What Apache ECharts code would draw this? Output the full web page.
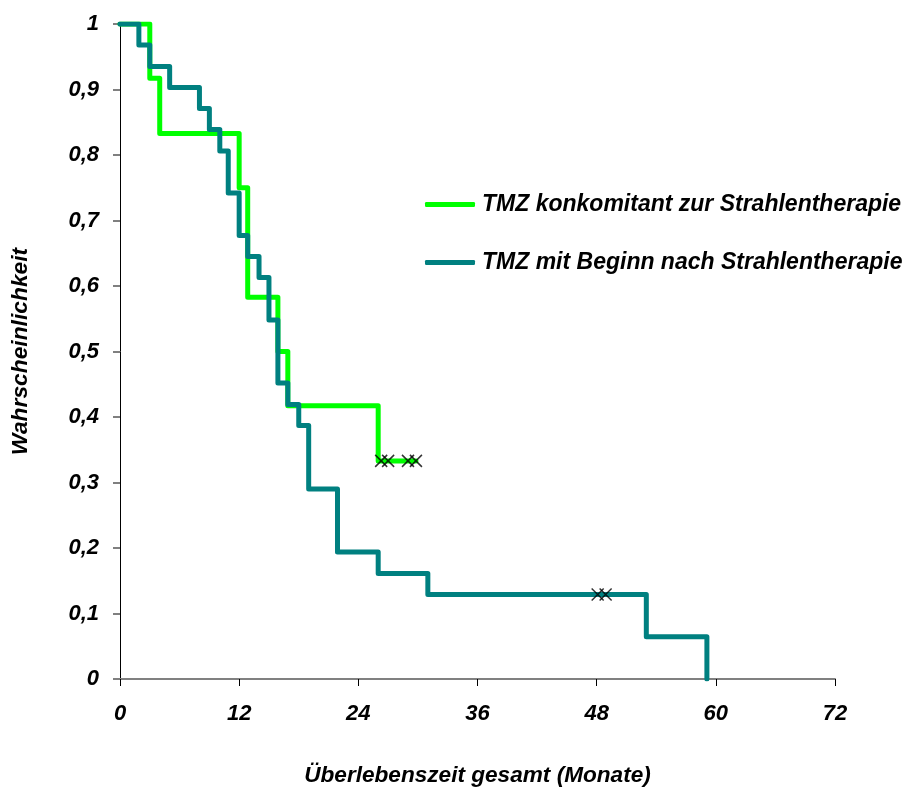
<!DOCTYPE html>
<html>
<head>
<meta charset="utf-8">
<script src="https://cdn.jsdelivr.net/npm/echarts@6/dist/echarts.min.js"></script>
<style>html,body{margin:0;padding:0;background:#fff}#c{width:909px;height:792px}</style>
</head>
<body>
<div id="c"></div>
<script>
// Kaplan-Meier data (months, survival probability)
const concTimes = [0, 3, 4, 12, 12.86, 15.9, 16.9, 26, 29.8];
const concValues = [1, 0.917, 0.833, 0.75, 0.583, 0.5, 0.417, 0.333, 0.333];
const concCensTimes = [26.3, 27.0, 29.0, 29.8];
const concCensValues = [0.333, 0.333, 0.333, 0.333];

const afterTimes = [0, 1.9, 3, 5, 8, 9, 10.05, 10.9, 12, 12.86, 14, 15, 15.9, 16.9, 18, 19, 21.9, 26, 31, 53, 59.1];
const afterValues = [1, 0.968, 0.935, 0.903, 0.871, 0.839, 0.806, 0.742, 0.677, 0.645, 0.613, 0.548, 0.452, 0.419, 0.387, 0.290, 0.194, 0.161, 0.129, 0.0645, 0];
const afterCensTimes = [48.1, 48.9];
const afterCensValues = [0.129, 0.129];

const seriesNames = ['TMZ konkomitant zur Strahlentherapie', 'TMZ mit Beginn nach Strahlentherapie'];
const xTicks = [0, 12, 24, 36, 48, 60, 72];

const zip = (a, b) => a.map((v, i) => [v, b[i]]);
const FONT = '"Liberation Sans", Arial, sans-serif';
const crossPath = 'path://M0,0L10,10M10,0L0,10';

const chart = echarts.init(document.getElementById('c'), null, {renderer: 'canvas'});
chart.setOption({
  animation: false,
  backgroundColor: '#fff',
  grid: {left: 120, right: 74, top: 24, bottom: 113, containLabel: false},
  legend: {
    orient: 'vertical', left: 420, top: 188, itemGap: 35,
    itemWidth: 50, itemHeight: 5, icon: 'roundRect',
    data: seriesNames,
    textStyle: {fontFamily: FONT, fontSize: 23, fontWeight: 'bold', fontStyle: 'italic', color: '#000', padding: [0,0,0,2]}
  },
  xAxis: {
    type: 'value', min: xTicks[0], max: xTicks[xTicks.length - 1], interval: 12,
    name: 'Überlebenszeit gesamt (Monate)', nameLocation: 'middle', nameGap: 85,
    nameTextStyle: {fontFamily: FONT, fontSize: 22.6, fontWeight: 'bold', fontStyle: 'italic', color: '#000'},
    axisLine: {show: true, lineStyle: {color: '#808080', width: 2}},
    axisTick: {show: true, length: 7, lineStyle: {color: '#000', width: 1}},
    axisLabel: {margin: 24, fontFamily: FONT, fontSize: 22, fontWeight: 'bold', fontStyle: 'italic', color: '#000'},
    splitLine: {show: false}
  },
  yAxis: {
    type: 'value', min: 0, max: 1, interval: 0.1,
    name: 'Wahrscheinlichkeit', nameLocation: 'middle', nameGap: 88, nameRotate: 90,
    nameTextStyle: {fontFamily: FONT, fontSize: 22.8, fontWeight: 'bold', fontStyle: 'italic', color: '#000'},
    axisLine: {show: true, lineStyle: {color: '#000', width: 1}},
    axisTick: {show: true, length: 7, lineStyle: {color: '#808080', width: 2}},
    axisLabel: {margin: 21, fontFamily: FONT, fontSize: 22, fontWeight: 'bold', fontStyle: 'italic', color: '#000',
      formatter: v => String(Math.round(v * 10) / 10).replace('.', ',')},
    splitLine: {show: false}
  },
  series: [
    {name: seriesNames[0], type: 'line', step: 'end', data: zip(concTimes, concValues), symbol: 'none',
     lineStyle: {color: '#00ff00', width: 5, cap: 'round', join: 'round'}, itemStyle: {color: '#00ff00'}, z: 2},
    {name: seriesNames[1], type: 'line', step: 'end', data: zip(afterTimes, afterValues), symbol: 'none',
     lineStyle: {color: '#008080', width: 5, cap: 'round', join: 'round'}, itemStyle: {color: '#008080'}, z: 3},
    {type: 'scatter', data: zip(concCensTimes, concCensValues), symbol: crossPath, symbolSize: [12, 12],
     itemStyle: {color: 'none', borderColor: '#000', borderWidth: 1.5}, z: 5},
    {type: 'scatter', data: zip(afterCensTimes, afterCensValues), symbol: crossPath, symbolSize: [12, 12],
     itemStyle: {color: 'none', borderColor: '#000', borderWidth: 1.5}, z: 5}
  ]
});
</script>
</body>
</html>
